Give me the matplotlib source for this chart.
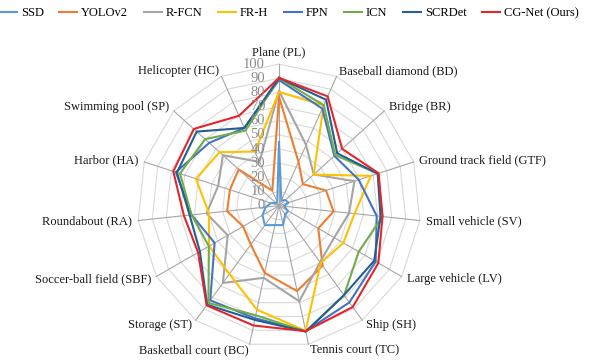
import numpy as np
import matplotlib
matplotlib.use('Agg')
import matplotlib.pyplot as plt
from matplotlib.lines import Line2D

plt.rcParams['font.family'] = ['Liberation Serif', 'DejaVu Serif']

categories = ['Plane (PL)', 'Baseball diamond (BD)', 'Bridge (BR)',
              'Ground track field (GTF)', 'Small vehicle (SV)', 'Large vehicle (LV)',
              'Ship (SH)', 'Tennis court (TC)', 'Basketball court (BC)', 'Storage (ST)',
              'Soccer-ball field (SBF)', 'Roundabout (RA)', 'Harbor (HA)',
              'Swimming pool (SP)', 'Helicopter (HC)']

series_names = ['SSD', 'YOLOv2', 'R-FCN', 'FR-H', 'FPN', 'ICN', 'SCRDet', 'CG-Net (Ours)']

ssd = [45, 4, 6, 7, 3.5, 7.5, 7.5, 14, 14, 17, 13.5, 9.5, 6, 3, 3]
yolov2 = [76.9, 33.87, 22.73, 34.88, 38.73, 32.02, 52.37, 61.65, 48.54, 33.91, 29.27, 36.83, 36.44, 38.26, 11.61]
rfcn = [81.01, 47.0, 33.0, 56.0, 49.77, 45.04, 49.29, 68.99, 52.07, 67.42, 41.83, 51.44, 45.15, 53.3, 33.89]
frh = [80.32, 77.55, 32.86, 68.13, 53.66, 52.49, 50.04, 90.41, 75.05, 59.59, 57.0, 49.81, 61.69, 56.46, 41.85]
fpn = [88.7, 75.1, 52.6, 59.2, 69.4, 78.8, 84.5, 90.6, 81.3, 82.6, 52.5, 62.1, 76.6, 66.3, 60.1]
icn = [90.0, 77.7, 53.4, 73.3, 73.5, 65.0, 78.2, 90.8, 79.1, 84.8, 57.2, 62.1, 73.5, 70.2, 58.1]
scrdet = [90.18, 81.88, 55.3, 73.29, 72.09, 77.65, 78.06, 90.91, 82.44, 86.39, 64.53, 63.45, 75.77, 78.21, 60.11]
cgnet = [90.3, 84.5, 60.0, 74.0, 73.5, 81.0, 88.5, 90.6, 86.5, 87.0, 66.0, 67.5, 78.5, 81.0, 69.5]

radial_ticks = [0, 10, 20, 30, 40, 50, 60, 70, 80, 90, 100]

all_series = [ssd, yolov2, rfcn, frh, fpn, icn, scrdet, cgnet]
colors = ['#5B9BD5', '#ED7D31', '#A5A5A5', '#FFC000', '#4472C4', '#70AD47', '#255E91', '#E3262B']

W, H = 598, 364
fig = plt.figure(figsize=(W / 100, H / 100), dpi=100)
cx, cy, R = 279, 205.7, 141.6
ax = fig.add_axes([(cx - R) / W, 1 - (cy + R) / H, 2 * R / W, 2 * R / H], projection='polar')
ax.set_theta_offset(np.pi / 2)
ax.set_theta_direction(-1)
ax.set_ylim(0, 100)
ax.grid(False)
ax.set_xticks([])
ax.set_yticks([])
ax.spines['polar'].set_visible(False)
ax.patch.set_alpha(0)

n = len(categories)
theta = np.arange(n) * 2 * np.pi / n
theta_closed = np.append(theta, theta[0])

# polygon rings
for v in radial_ticks[1:]:
    ax.plot(theta_closed, [v] * (n + 1), color='#D9D9D9', lw=0.8, clip_on=False, zorder=1)
# spokes
for t in theta:
    ax.plot([t, t], [0, 100], color='#A6A6A6', lw=0.8, clip_on=False, zorder=1)

# series
for vals, c, name in zip(all_series, colors, series_names):
    ax.plot(theta_closed, list(vals) + [vals[0]], color=c, lw=1.5, clip_on=False, zorder=3, label=name)

# radial tick labels
for v in radial_ticks:
    ax.annotate(str(v), xy=(0, v), xytext=(-14, 0), textcoords='offset pixels',
                ha='right', va='center', fontsize=10.5, color='#8C8C8C',
                annotation_clip=False, zorder=4)

# category labels
for i, (t, lab) in enumerate(zip(theta, categories)):
    dx = 6 * np.sin(t)
    dy = 6 * np.cos(t)
    if i == 0:
        ha, va = 'center', 'bottom'
    elif np.sin(t) > 0:
        ha, va = 'left', 'center'
    else:
        ha, va = 'right', 'center'
    ax.annotate(lab, xy=(t, 100), xytext=(dx, dy), textcoords='offset pixels',
                ha=ha, va=va, fontsize=9, color='#1A1A1A', annotation_clip=False)

handles = [Line2D([], [], color=c, lw=1.5) for c in colors]
fig.legend(handles, series_names, loc='center left', bbox_to_anchor=(-0.002, 1 - 13 / H),
           ncol=8, frameon=False, fontsize=9, handlelength=1.45, handletextpad=0.3,
           columnspacing=1.25, borderpad=0, borderaxespad=0)

fig.savefig('out.png', dpi=100)
